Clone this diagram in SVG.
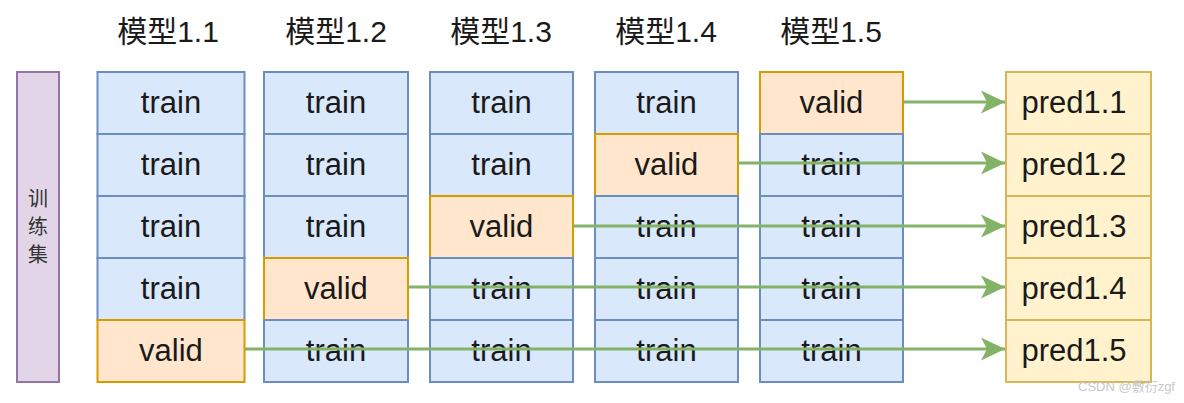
<svg xmlns="http://www.w3.org/2000/svg" width="1184" height="403" viewBox="0 0 1184 403">
<style>
  .t{font-family:"Liberation Sans","Noto Sans CJK SC",sans-serif;font-size:31px;fill:#1a1a1a;text-anchor:middle;dominant-baseline:central}
  .h{font-family:"Liberation Sans","Noto Sans CJK SC",sans-serif;font-size:30px;fill:#1a1a1a;text-anchor:middle}
  .tr{fill:#dae8fc;stroke:#6c8ebf;stroke-width:2}
  .va{fill:#ffe6cc;stroke:#d79b00;stroke-width:2}
  .pr{fill:#fff2cc;stroke:#d6b656;stroke-width:2}
  .lk{fill:none;stroke:#82b366;stroke-width:3}
</style>
<defs>
  <marker id="ah" markerUnits="userSpaceOnUse" markerWidth="26" markerHeight="26" viewBox="0 0 26 26" refX="24" refY="13" orient="auto">
    <path d="M0,1.5 L24,13 L0,24.5 L6,13 Z" fill="#82b366"/>
  </marker>
</defs>
<rect width="1184" height="403" fill="#ffffff"/>
<g id="titles">
  <text class="h" x="168" y="42">模型1.1</text>
  <text class="h" x="336" y="42">模型1.2</text>
  <text class="h" x="501" y="42">模型1.3</text>
  <text class="h" x="666" y="42">模型1.4</text>
  <text class="h" x="831" y="42">模型1.5</text>
</g>
<g id="trainset">
  <rect x="17" y="72" width="42" height="310" fill="#e1d5e7" stroke="#9673a6" stroke-width="2"/>
  <text x="38" y="197" font-family="Noto Sans CJK SC,sans-serif" font-size="20" fill="#333" text-anchor="middle" dominant-baseline="central">训</text>
  <text x="38" y="225" font-family="Noto Sans CJK SC,sans-serif" font-size="20" fill="#333" text-anchor="middle" dominant-baseline="central">练</text>
  <text x="38" y="253" font-family="Noto Sans CJK SC,sans-serif" font-size="20" fill="#333" text-anchor="middle" dominant-baseline="central">集</text>
</g>
<g id="model1_1">
  <rect class="tr" x="97.5" y="72" width="147" height="62"/><text class="t" x="171" y="102">train</text>
  <rect class="tr" x="97.5" y="134" width="147" height="62"/><text class="t" x="171" y="164">train</text>
  <rect class="tr" x="97.5" y="196" width="147" height="62"/><text class="t" x="171" y="226">train</text>
  <rect class="tr" x="97.5" y="258" width="147" height="62"/><text class="t" x="171" y="288">train</text>
  <rect class="va" x="97.5" y="320" width="147" height="62"/><text class="t" x="171" y="350">valid</text>
</g>
<g id="model1_2">
  <rect class="tr" x="264" y="72" width="144" height="62"/><text class="t" x="336" y="102">train</text>
  <rect class="tr" x="264" y="134" width="144" height="62"/><text class="t" x="336" y="164">train</text>
  <rect class="tr" x="264" y="196" width="144" height="62"/><text class="t" x="336" y="226">train</text>
  <rect class="va" x="264" y="258" width="144" height="62"/><text class="t" x="336" y="288">valid</text>
  <rect class="tr" x="264" y="320" width="144" height="62"/><text class="t" x="336" y="350">train</text>
</g>
<g id="model1_3">
  <rect class="tr" x="430" y="72" width="143" height="62"/><text class="t" x="501.5" y="102">train</text>
  <rect class="tr" x="430" y="134" width="143" height="62"/><text class="t" x="501.5" y="164">train</text>
  <rect class="va" x="430" y="196" width="143" height="62"/><text class="t" x="501.5" y="226">valid</text>
  <rect class="tr" x="430" y="258" width="143" height="62"/><text class="t" x="501.5" y="288">train</text>
  <rect class="tr" x="430" y="320" width="143" height="62"/><text class="t" x="501.5" y="350">train</text>
</g>
<g id="model1_4">
  <rect class="tr" x="595" y="72" width="143" height="62"/><text class="t" x="666.5" y="102">train</text>
  <rect class="va" x="595" y="134" width="143" height="62"/><text class="t" x="666.5" y="164">valid</text>
  <rect class="tr" x="595" y="196" width="143" height="62"/><text class="t" x="666.5" y="226">train</text>
  <rect class="tr" x="595" y="258" width="143" height="62"/><text class="t" x="666.5" y="288">train</text>
  <rect class="tr" x="595" y="320" width="143" height="62"/><text class="t" x="666.5" y="350">train</text>
</g>
<g id="model1_5">
  <rect class="va" x="760" y="72" width="143" height="62"/><text class="t" x="831.5" y="102">valid</text>
  <rect class="tr" x="760" y="134" width="143" height="62"/><text class="t" x="831.5" y="164">train</text>
  <rect class="tr" x="760" y="196" width="143" height="62"/><text class="t" x="831.5" y="226">train</text>
  <rect class="tr" x="760" y="258" width="143" height="62"/><text class="t" x="831.5" y="288">train</text>
  <rect class="tr" x="760" y="320" width="143" height="62"/><text class="t" x="831.5" y="350">train</text>
</g>
<g id="preds">
  <rect class="pr" x="1006" y="72" width="145" height="62"/><text class="t" x="1074" y="102">pred1.1</text>
  <rect class="pr" x="1006" y="134" width="145" height="62"/><text class="t" x="1074" y="164">pred1.2</text>
  <rect class="pr" x="1006" y="196" width="145" height="62"/><text class="t" x="1074" y="226">pred1.3</text>
  <rect class="pr" x="1006" y="258" width="145" height="62"/><text class="t" x="1074" y="288">pred1.4</text>
  <rect class="pr" x="1006" y="320" width="145" height="62"/><text class="t" x="1074" y="350">pred1.5</text>
</g>
<g id="connectors">
  <line class="lk" x1="903" y1="102" x2="1005" y2="102" marker-end="url(#ah)"/>
  <line class="lk" x1="738" y1="163" x2="1005" y2="163" marker-end="url(#ah)"/>
  <line class="lk" x1="573" y1="226" x2="1005" y2="226" marker-end="url(#ah)"/>
  <line class="lk" x1="408" y1="287" x2="1005" y2="287" marker-end="url(#ah)"/>
  <line class="lk" x1="245" y1="349" x2="1005" y2="349" marker-end="url(#ah)"/>
</g>
<text x="1175" y="391" font-family="Liberation Sans,Noto Sans CJK SC,sans-serif" font-size="13" fill="#c8c8c8" text-anchor="end">CSDN @敷衍zgf</text>
</svg>
